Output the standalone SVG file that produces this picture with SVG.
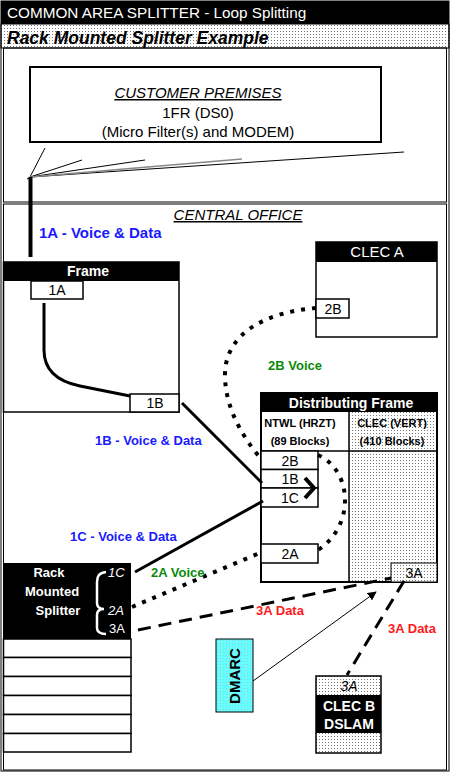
<svg xmlns="http://www.w3.org/2000/svg" width="450" height="772" viewBox="0 0 450 772">
<defs>
<pattern id="dots" width="3" height="3" patternUnits="userSpaceOnUse">
<rect width="3" height="3" fill="#ffffff"/>
<rect x="1" y="1" width="1" height="1" fill="#777"/>
</pattern>
<pattern id="cyandots" width="3" height="3" patternUnits="userSpaceOnUse">
<rect width="3" height="3" fill="#6ff"/>
<rect x="1" y="1" width="1" height="1" fill="#9cc"/>
</pattern>
<marker id="arr" viewBox="0 0 10 10" refX="9" refY="5" markerWidth="9" markerHeight="9" markerUnits="userSpaceOnUse" orient="auto">
<path d="M0,0 L10,5 L0,10 z" fill="#000"/>
</marker>
<style>
text{font-family:"Liberation Sans",Arial,sans-serif;}
.box{fill:#fff;stroke:#000;stroke-width:1.5;}
.bl{fill:#000;}
.wt{fill:#fff;font-weight:bold;font-size:14px;text-anchor:middle;}
.bt{fill:#000;font-size:14px;text-anchor:middle;}
.big{font-size:15px;}
.lbl{font-weight:bold;font-size:13px;}
.blue{fill:#1a1aff;}
.green{fill:#0a8a0a;}
.red{fill:#ff1a1a;}
.solid{fill:none;stroke:#000;stroke-width:3;}
.dot{fill:none;stroke:#000;stroke-width:4;stroke-dasharray:4 7;}
.dash{fill:none;stroke:#000;stroke-width:3;stroke-dasharray:13 8;}
.thin{fill:none;stroke:#000;stroke-width:1;}
</style>
</defs>
<rect x="0" y="0" width="450" height="772" fill="#fff"/>
<g id="header">
<rect x="1" y="1" width="448" height="23" fill="#000"/>
<text x="7" y="18" fill="#fff" font-size="15.3">COMMON AREA SPLITTER - Loop Splitting</text>
<rect x="1" y="24" width="448" height="24" fill="url(#dots)" stroke="#000" stroke-width="1"/>
<text x="7" y="44" fill="#000" font-size="17.5" font-weight="bold" font-style="italic">Rack Mounted Splitter Example</text>
</g>
<rect x="1" y="1" width="448" height="770" fill="none" stroke="#000" stroke-width="1"/>
<rect x="3.5" y="48" width="443" height="154" fill="none" stroke="#000" stroke-width="1"/>
<rect x="3.5" y="204" width="443" height="566" fill="none" stroke="#000" stroke-width="1"/>

<g id="customer-premises">
<rect x="30" y="67" width="351" height="75" fill="#fff" stroke="#000" stroke-width="2"/>
<text x="198" y="98" class="bt big" font-style="italic" text-decoration="underline">CUSTOMER PREMISES</text>
<text x="198" y="118" class="bt big">1FR (DS0)</text>
<text x="198" y="137" class="bt big">(Micro Filter(s) and MODEM)</text>
</g>

<g id="central-office-label">
<text x="238" y="220" class="bt big" font-style="italic" text-decoration="underline">CENTRAL OFFICE</text>
</g>

<g id="frame">
<rect x="3.5" y="262" width="175.5" height="150" class="box"/>
<rect x="3.5" y="262" width="175.5" height="19" class="bl"/>
<text x="88" y="276" class="wt">Frame</text>
<g id="frame-1A"><rect x="31" y="281" width="52" height="18" class="box"/><text x="57" y="295" class="bt">1A</text></g>
<g id="frame-1B"><rect x="130" y="394" width="49" height="18" class="box"/><text x="155" y="408" class="bt">1B</text></g>
</g>

<g id="clec-a">
<rect x="316" y="242" width="121" height="95" class="box"/>
<rect x="316" y="242" width="121" height="20" class="bl"/>
<text x="377" y="257" fill="#fff" font-size="15" text-anchor="middle">CLEC A</text>
<g id="clec-a-2B"><rect x="316" y="299" width="33" height="19" class="box"/><text x="333" y="314" class="bt">2B</text></g>
</g>

<g id="distributing-frame">
<rect x="349" y="412" width="88" height="170" fill="url(#dots)"/>
<rect x="261" y="393" width="176" height="189" fill="none" stroke="#000" stroke-width="2"/>
<rect x="261" y="393" width="176" height="19" class="bl"/>
<text x="351" y="408" class="wt" font-size="14.7">Distributing Frame</text>
<line x1="349" y1="412" x2="349" y2="582" stroke="#000" stroke-width="1.5"/>
<line x1="261" y1="451" x2="437" y2="451" stroke="#000" stroke-width="1.5"/>
<text x="300" y="427" font-size="11" font-weight="bold" text-anchor="middle">NTWL (HRZT)</text>
<text x="300" y="445" font-size="11" font-weight="bold" text-anchor="middle">(89 Blocks)</text>
<text x="392" y="427" font-size="11" font-weight="bold" text-anchor="middle">CLEC (VERT)</text>
<text x="392" y="445" font-size="11" font-weight="bold" text-anchor="middle">(410 Blocks)</text>
<g id="df-2B"><rect x="261" y="451" width="57" height="18.5" class="box"/><text x="290" y="466" class="bt">2B</text></g>
<g id="df-1B"><rect x="261" y="469.5" width="57" height="18.5" class="box"/><text x="290" y="484" class="bt">1B</text></g>
<g id="df-1C"><rect x="261" y="488" width="57" height="19" class="box"/><text x="290" y="503" class="bt">1C</text></g>
<g id="df-2A"><rect x="261" y="544" width="57" height="19" class="box"/><text x="290" y="559" class="bt">2A</text></g>
<g id="df-3A"><rect x="391" y="563" width="46" height="19" fill="url(#dots)" stroke="#000" stroke-width="1"/><text x="414" y="578" class="bt">3A</text></g>
</g>

<g id="rack-mounted-splitter">
<rect x="3.5" y="563" width="127.5" height="76" class="bl"/>
<text x="49" y="577" fill="#fff" font-weight="bold" font-size="13" text-anchor="middle">Rack</text>
<text x="52" y="596" fill="#fff" font-weight="bold" font-size="13" text-anchor="middle">Mounted</text>
<text x="58" y="615" fill="#fff" font-weight="bold" font-size="13" text-anchor="middle">Splitter</text>
<text x="108" y="577" fill="#fff" font-size="13" font-style="italic">1C</text>
<text x="108" y="615" fill="#fff" font-size="13" font-style="italic">2A</text>
<text x="109" y="633" fill="#fff" font-size="13">3A</text>
<path d="M106,572 C99,573 97,576 97,582 L97,603 C97,607 100,609 104,609 C100,609 97,611 97,615 L97,628 C97,632 100,634 106,634" fill="none" stroke="#fff" stroke-width="2.5"/>
<rect x="3.5" y="639" width="127.5" height="18.5" class="box"/>
<rect x="3.5" y="657.5" width="127.5" height="19" class="box"/>
<rect x="3.5" y="676.5" width="127.5" height="19" class="box"/>
<rect x="3.5" y="695.5" width="127.5" height="19" class="box"/>
<rect x="3.5" y="714.5" width="127.5" height="19" class="box"/>
<rect x="3.5" y="733.5" width="127.5" height="18.5" class="box"/>
</g>

<g id="dmarc">
<rect x="216" y="639" width="37" height="73" fill="url(#cyandots)" stroke="#000" stroke-width="1"/>
<text x="0" y="0" transform="translate(240,676) rotate(-90)" font-weight="bold" font-size="15" text-anchor="middle">DMARC</text>
</g>

<g id="clec-b-dslam">
<rect x="316" y="676" width="65" height="77" fill="url(#dots)" stroke="#000" stroke-width="1.5"/>
<rect x="316" y="695" width="65" height="38" class="bl"/>
<text x="349" y="691" class="bt" font-style="italic">3A</text>
<text x="349" y="711" class="wt">CLEC B</text>
<text x="349" y="729" class="wt">DSLAM</text>
</g>

<g id="connectors">
<line x1="30" y1="177" x2="45" y2="148" class="thin"/>
<line x1="30" y1="177" x2="82" y2="160" class="thin"/>
<line x1="30" y1="177" x2="145" y2="160" class="thin"/>
<line x1="30" y1="177" x2="404" y2="152" class="thin"/>
<line x1="30" y1="177" x2="242" y2="159" stroke="#888" stroke-width="1.5"/>
<line x1="27" y1="179" x2="32" y2="177" class="thin"/>
<line x1="30.5" y1="177" x2="30.5" y2="257" stroke="#000" stroke-width="4"/>
<path d="M44,303 L44,350 C44,372 60,382 80,386 L130,396" class="solid"/>
<line x1="182" y1="403" x2="262" y2="483" class="solid"/>
<line x1="135" y1="572" x2="263" y2="501" class="solid"/>
<path d="M305,478 L314,488 L305,498" fill="none" stroke="#000" stroke-width="4"/>
<path d="M316,308 C268,312 225,332 225,375 C225,410 245,440 262,460" class="dot"/>
<path d="M318,455 C352,470 356,525 318,550" class="dot"/>
<line x1="132" y1="607" x2="262" y2="552" class="dot"/>
<line x1="138" y1="630" x2="391" y2="578" class="dash"/>
<line x1="404" y1="581" x2="347" y2="675" class="dash"/>
<line x1="253" y1="681" x2="376" y2="592" class="thin" marker-end="url(#arr)"/>
</g>

<g id="labels">
<text x="39" y="238" class="blue" font-weight="bold" font-size="15">1A - Voice &amp; Data</text>
<text x="95" y="445" class="lbl blue">1B - Voice &amp; Data</text>
<text x="70" y="541" class="lbl blue">1C - Voice &amp; Data</text>
<text x="268" y="370" class="lbl green">2B Voice</text>
<text x="151" y="577" class="lbl green">2A Voice</text>
<text x="256" y="615" class="lbl red">3A Data</text>
<text x="388" y="633" class="lbl red">3A Data</text>
</g>
</svg>
